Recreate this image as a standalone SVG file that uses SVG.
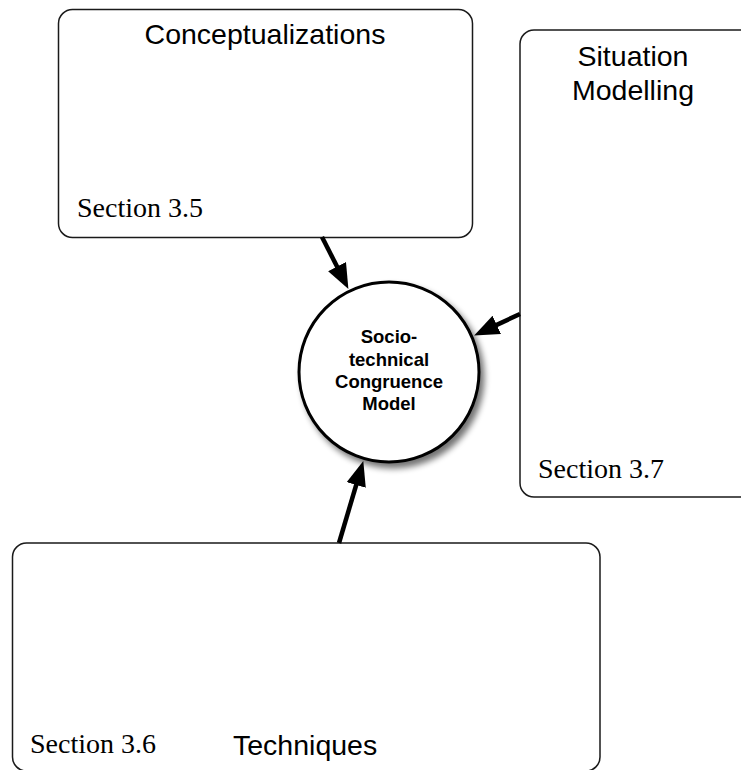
<svg xmlns="http://www.w3.org/2000/svg" width="741" height="770" viewBox="0 0 741 770">
  <style>
    .box { fill: #ffffff; stroke: #1a1a1a; stroke-width: 1.5; }
    .title { font-family: "Liberation Sans", Arial, sans-serif; font-size: 28.5px; fill: #000; }
    .section { font-family: "Liberation Serif", "Times New Roman", serif; font-size: 28px; fill: #000; }
    .hub { fill: #ffffff; stroke: #000; stroke-width: 3; }
    .hubtext { font-family: "Liberation Sans", Arial, sans-serif; font-size: 18.5px; font-weight: bold; fill: #000; text-anchor: middle; }
    .conn { fill: none; stroke: #000; stroke-width: 4.5; marker-end: url(#head); }
  </style>
  <defs>
    <marker id="head" markerUnits="userSpaceOnUse" markerWidth="26" markerHeight="22" refX="12" refY="10" orient="auto">
      <path d="M0,0 L25,10 L0,20 z" fill="#000"/>
    </marker>
    <filter id="shadow" x="-20%" y="-20%" width="150%" height="150%">
      <feGaussianBlur in="SourceAlpha" stdDeviation="3"/>
      <feOffset dx="4" dy="5" result="blur"/>
      <feComponentTransfer><feFuncA type="linear" slope="0.55"/></feComponentTransfer>
      <feMerge><feMergeNode/><feMergeNode in="SourceGraphic"/></feMerge>
    </filter>
  </defs>

  <rect width="741" height="770" fill="#ffffff"/>

  <g id="conceptualizations">
    <rect class="box" x="58.5" y="9.5" width="414" height="228" rx="14"/>
    <text class="title" x="265" y="44" text-anchor="middle">Conceptualizations</text>
    <text class="section" x="77" y="217">Section 3.5</text>
  </g>

  <g id="situation-modelling">
    <rect class="box" x="520" y="30" width="240" height="467" rx="14"/>
    <text class="title" x="633" y="66" text-anchor="middle">Situation</text>
    <text class="title" x="633" y="100" text-anchor="middle">Modelling</text>
    <text class="section" x="538" y="478">Section 3.7</text>
  </g>

  <g id="techniques">
    <rect class="box" x="12.5" y="543" width="587.5" height="228" rx="14"/>
    <text class="section" x="30" y="753">Section 3.6</text>
    <text class="title" x="233" y="755">Techniques</text>
  </g>

  <g id="connectors">
    <line class="conn" x1="322" y1="237" x2="342.5" y2="277.3"/>
    <line class="conn" x1="520" y1="314" x2="485.9" y2="329.9"/>
    <line class="conn" x1="339" y1="543" x2="359.6" y2="473.5"/>
  </g>

  <g id="sociotechnical-congruence-model">
    <circle class="hub" cx="389" cy="372" r="90" filter="url(#shadow)"/>
    <text class="hubtext" x="389" y="343">Socio-</text>
    <text class="hubtext" x="389" y="366">technical</text>
    <text class="hubtext" x="389" y="388">Congruence</text>
    <text class="hubtext" x="389" y="410">Model</text>
  </g>
</svg>
